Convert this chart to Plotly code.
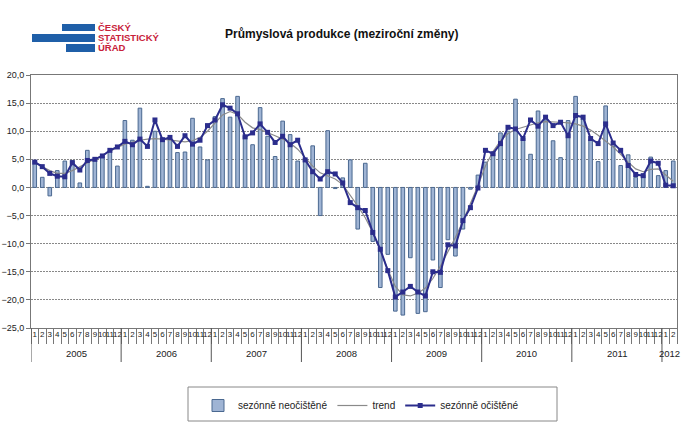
import plotly.graph_objects as go

# monthly data, Jan 2005 - Feb 2012 (year-on-year change, %)
years = ["2005", "2006", "2007", "2008", "2009", "2010", "2011", "2012"]
months_in_year = [12, 12, 12, 12, 12, 12, 12, 2]

# sezónně neočištěné (bars)
neocistene = [
    4.8, 1.8, -1.5, 3.0, 4.7, 4.8, 0.8, 6.6, 5.0, 5.5, 6.5, 3.8,
    11.9, 8.4, 14.1, 0.2, 10.0, 8.7, 8.6, 6.2, 6.3, 12.3, 7.2, 4.9,
    12.6, 15.8, 12.5, 16.2, 9.2, 7.6, 14.2, 9.1, 5.5, 11.8, 9.4, 4.7,
    4.9, 7.4, -5.0, 10.1, -0.2, 1.7, 4.9, -7.4, 4.3, -9.6, -17.8, -11.9,
    -22.0, -22.7, -12.5, -22.4, -22.1, -12.9, -17.8, -9.3, -12.2, -7.4, -0.3, 2.2,
    4.5, 6.1, 9.7, 10.0, 15.7, 8.8, 5.9, 13.6, 12.0, 8.3, 5.3, 11.9,
    16.2, 12.2, 8.5, 4.6, 14.5, 7.3, 3.9, 5.8, 1.8, 2.3, 5.4, 2.1,
    3.0, 4.7,
]

# trend
trend = [
    4.4, 3.7, 3.0, 2.5, 2.5, 3.0, 3.7, 4.4, 5.1, 5.8, 6.5, 7.1,
    7.7, 8.1, 8.4, 8.6, 8.7, 8.6, 8.4, 8.2, 8.1, 8.3, 8.9, 10.0,
    11.5, 12.9, 13.5, 13.0, 11.6, 10.6, 10.3, 9.8, 9.2, 8.6, 7.9, 6.8,
    5.3, 3.8, 2.6, 2.0, 1.5, 0.5, -1.3, -3.3, -5.4, -8.0, -11.2, -14.6,
    -17.6, -19.1, -19.3, -18.8, -17.9, -16.2, -14.0, -11.5, -8.9, -6.0, -3.0, 0.3,
    3.8, 6.4, 8.3, 9.6, 10.3, 10.7, 11.1, 11.5, 11.7, 11.7, 11.6, 11.5,
    11.3, 10.9, 10.2, 9.3, 8.3, 7.2, 5.9, 4.5, 3.3, 2.8, 3.2, 3.3,
    2.2, 1.1,
]

# sezónně očištěné
ocistene = [
    4.5, 3.7, 2.5, 2.0, 1.9, 4.4, 3.1, 4.8, 5.0, 5.6, 6.6, 7.2,
    8.2, 7.6, 8.6, 7.3, 12.0, 8.5, 8.9, 7.3, 9.2, 7.7, 8.4, 11.0,
    12.0, 14.7, 14.1, 13.1, 9.0, 9.7, 11.3, 9.8, 8.0, 9.1, 7.6, 8.4,
    4.9, 2.8, 1.5, 2.8, 2.4, 0.8, -2.7, -3.6, -4.1, -8.0, -11.0, -14.8,
    -19.5, -18.6, -17.6, -18.6, -19.3, -15.0, -15.1, -10.2, -10.4, -5.9, -3.6, -0.1,
    6.6, 6.0, 7.8, 10.7, 10.4, 8.7, 12.0, 10.9, 12.5, 11.0, 11.6, 9.2,
    12.8, 12.5, 8.7, 7.8, 11.3, 7.9, 6.6, 3.9, 2.3, 2.1, 4.7, 4.3,
    0.4, 0.3,
]

# category keys (unique) and month tick labels
x_keys = []
x_month = []
for y, n in zip(years, months_in_year):
    for m in range(1, n + 1):
        x_keys.append(y + "-" + str(m))
        x_month.append(str(m))

FONT = "Liberation Sans, Arial, sans-serif"

fig = go.Figure()
fig.add_trace(go.Bar(
    x=x_keys, y=neocistene, name="sezónně neočištěné",
    marker=dict(color="#9fb4d4", line=dict(color="#4a6890", width=1)),
))
fig.add_trace(go.Scatter(
    x=x_keys, y=trend, name="trend", mode="lines",
    line=dict(color="#8a8a8a", width=1.2),
))
fig.add_trace(go.Scatter(
    x=x_keys, y=ocistene, name="sezónně očištěné", mode="lines+markers",
    line=dict(color="#2b2d8c", width=2),
    marker=dict(symbol="square", size=5, color="#2b2d8c"),
))

# plot area in pixels (for placing the logo / legend box)
L, R, T, B = 31, 677, 75, 328


def px(xp):
    return (xp - L) / (R - L)


def py(yp):
    return (B - yp) / (B - T)


logo_blue = "#1f5fa8"
shapes = []
for x0, x1, y0, y1 in [(62, 95, 24, 31), (32, 95, 34, 42), (66, 95, 44, 52)]:
    shapes.append(dict(type="rect", xref="paper", yref="paper",
                       x0=px(x0), x1=px(x1), y0=py(y1), y1=py(y0),
                       fillcolor=logo_blue, line=dict(width=0)))
# legend frame
shapes.append(dict(type="rect", xref="paper", yref="paper",
                   x0=px(188), x1=px(557), y0=py(421), y1=py(387),
                   line=dict(color="#888", width=1), fillcolor="rgba(0,0,0,0)"))

annotations = [
    dict(text="<b>Průmyslová produkce (meziroční změny)</b>", xref="paper", yref="paper",
         x=px(341), y=py(25), showarrow=False, font=dict(size=12, color="#111", family=FONT)),
]
for txt, yc in [("ČESKÝ", 27.5), ("STATISTICKÝ", 38), ("ÚŘAD", 48)]:
    annotations.append(dict(text="<b>" + txt + "</b>", xref="paper", yref="paper",
                            x=px(96), y=py(yc), xanchor="left", yanchor="middle",
                            showarrow=False,
                            font=dict(size=9.5, color="#c8213a", family=FONT)))

# year labels and year dividers under the month labels
start = 0
for y, n in zip(years, months_in_year):
    shapes.append(dict(type="line", xref="x", yref="paper",
                       x0=start - 0.5, x1=start - 0.5, y0=0, y1=py(362),
                       line=dict(color="#555", width=1)))
    annotations.append(dict(text=y, xref="x", yref="paper",
                            x=start + (n - 1) / 2, y=py(353), yanchor="middle",
                            showarrow=False,
                            font=dict(size=9.5, color="#222", family=FONT)))
    start += n

fig.update_layout(
    width=688, height=436,
    margin=dict(l=L, r=688 - R, t=T, b=436 - B, autoexpand=False),
    paper_bgcolor="white", plot_bgcolor="white",
    font=dict(family=FONT, size=9, color="#222"),
    separators=", ",
    bargap=0.52,
    showlegend=True,
    legend=dict(orientation="h", x=px(198), xanchor="left", y=py(391), yanchor="top",
                borderwidth=0, font=dict(size=10, color="#222"),
                traceorder="normal", bgcolor="rgba(0,0,0,0)"),
    shapes=shapes,
    annotations=annotations,
)
fig.update_yaxes(
    range=[-25, 20], dtick=5, tickformat=".1f", automargin=False,
    showgrid=True, gridcolor="#888", griddash="2px,1px", gridwidth=1,
    zeroline=False, showline=True, linecolor="#777", mirror=True,
    ticks="outside", ticklen=4, tickcolor="#777",
    tickfont=dict(size=9, color="#222"),
)
fig.update_xaxes(
    type="category", showline=True, linecolor="#777", mirror=True, automargin=False,
    range=[-0.5, len(neocistene) - 0.5],
    tickmode="array", tickvals=x_keys, ticktext=x_month,
    ticks="outside", tickson="boundaries", ticklen=15, tickcolor="#777", tickangle=0,
    ticklabelstandoff=-2,
    tickfont=dict(size=8, color="#222"),
    showgrid=False,
)

fig.write_html("out.html", config={"displayModeBar": False},
               post_script="document.body.style.margin='0px';")
